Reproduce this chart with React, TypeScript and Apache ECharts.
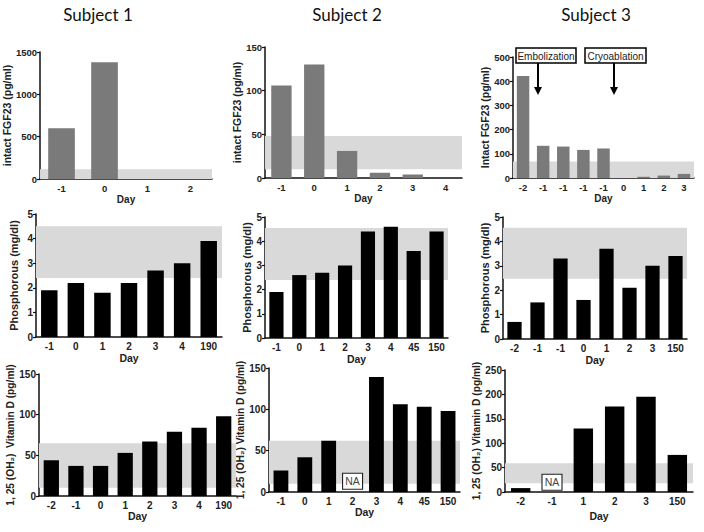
import React, { useEffect, useRef } from 'react';
import * as echarts from 'echarts';

const subjectTitles = ['Subject 1', 'Subject 2', 'Subject 3'];

// Row 1: intact FGF23 (pg/ml)
const s1FgfDays = ['-1', '0', '1', '2'];
const s1FgfValues = [600, 1380, null, null];
const s1FgfRange = [0, 115];
const s2FgfDays = ['-1', '0', '1', '2', '3', '4'];
const s2FgfValues = [106, 130, 31, 6, 4, null];
const s2FgfRange = [10, 48];
const s3FgfDays = ['-2', '-1', '-1', '-1', '-1', '0', '1', '2', '3'];
const s3FgfValues = [422, 133, 130, 116, 122, null, 5, 10, 17];
const s3FgfRange = [0, 68];

// Row 2: Phosphorous (mg/dl)
const s1PhosDays = ['-1', '0', '1', '2', '3', '4', '190'];
const s1PhosValues = [1.9, 2.2, 1.8, 2.2, 2.7, 3.0, 3.9];
const s1PhosRange = [2.4, 4.5];
const s2PhosDays = ['-1', '0', '1', '2', '3', '4', '45', '150'];
const s2PhosValues = [1.9, 2.6, 2.7, 3.0, 4.4, 4.6, 3.6, 4.4];
const s2PhosRange = [2.4, 4.55];
const s3PhosDays = ['-2', '-1', '-1', '0', '1', '2', '3', '150'];
const s3PhosValues = [0.7, 1.5, 3.3, 1.6, 3.7, 2.1, 3.0, 3.4];
const s3PhosRange = [2.47, 4.56];

// Row 3: 1,25 (OH)2 Vitamin D (pg/ml)
const s1VitDDays = ['-2', '-1', '0', '1', '2', '3', '4', '190'];
const s1VitDValues = [44, 37, 37, 53, 67, 79, 84, 98];
const s1VitDRange = [10, 65];
const s2VitDDays = ['-1', '0', '1', '2', '3', '4', '45', '150'];
const s2VitDValues = [26, 42, 62, null, 139, 106, 103, 98];
const s2VitDRange = [10, 62];
const s2VitDNA = { index: 3, value: 13 };
const s3VitDDays = ['-2', '-1', '1', '2', '3', '150'];
const s3VitDValues = [8, null, 130, 175, 195, 76];
const s3VitDRange = [18, 59];
const s3VitDNA = { index: 1, value: 20 };

const FONT = 'Liberation Sans, Arial, sans-serif';

type Panel = {
  days: string[];
  values: (number | null)[];
  range: number[];
  max: number;
  interval: number;
  yName: string;
  color: string;
  box: [number, number, number, number]; // left, top, right, bottom
  yGap: number;
  xGap: number;
  tickFont: number;
  nameFont: number;
  na?: { index: number; value: number };
};

const FGF = 'intact FGF23 (pg/ml)';
const PHOS = 'Phosphorous (mg/dl)';
const VITD1 = '1, 25 (OH\u2082)  Vitamin D (pg/ml)';
const VITD = '1, 25 (OH\u2082) Vitamin D (pg/ml)';

const panels: Panel[] = [
  { days: s1FgfDays, values: s1FgfValues, range: s1FgfRange, max: 1500, interval: 500, yName: FGF, color: '#7a7a7a', box: [36, 52, 212, 179], yGap: 20, xGap: 15, tickFont: 9.5, nameFont: 10.5 },
  { days: s2FgfDays, values: s2FgfValues, range: s2FgfRange, max: 150, interval: 50, yName: FGF, color: '#7a7a7a', box: [265, 47, 462, 178], yGap: 21, xGap: 15, tickFont: 9.5, nameFont: 10.5 },
  { days: s3FgfDays, values: s3FgfValues, range: s3FgfRange, max: 500, interval: 100, yName: 'Intact FGF23 (pg/ml)', color: '#7a7a7a', box: [513, 57, 694, 178], yGap: 23, xGap: 15, tickFont: 9.5, nameFont: 10.5 },
  { days: s1PhosDays, values: s1PhosValues, range: s1PhosRange, max: 5, interval: 1, yName: PHOS, color: '#000', box: [36, 214, 222, 337], yGap: 17, xGap: 15, tickFont: 10, nameFont: 11 },
  { days: s2PhosDays, values: s2PhosValues, range: s2PhosRange, max: 5, interval: 1, yName: PHOS, color: '#000', box: [265, 217, 448, 338], yGap: 10, xGap: 15, tickFont: 10, nameFont: 11 },
  { days: s3PhosDays, values: s3PhosValues, range: s3PhosRange, max: 5, interval: 1, yName: PHOS, color: '#000', box: [503, 217, 687, 339], yGap: 11, xGap: 15, tickFont: 10, nameFont: 11 },
  { days: s1VitDDays, values: s1VitDValues, range: s1VitDRange, max: 150, interval: 50, yName: VITD1, color: '#000', box: [39, 374, 236, 496], yGap: 18, xGap: 14, tickFont: 10, nameFont: 10.2 },
  { days: s2VitDDays, values: s2VitDValues, range: s2VitDRange, max: 150, interval: 50, yName: VITD, color: '#000', box: [269, 368, 460, 492], yGap: 21, xGap: 12, tickFont: 10, nameFont: 10.2, na: s2VitDNA },
  { days: s3VitDDays, values: s3VitDValues, range: s3VitDRange, max: 250, interval: 50, yName: VITD, color: '#000', box: [505, 370, 693, 492], yGap: 21, xGap: 18, tickFont: 10, nameFont: 10.2, na: s3VitDNA },
];

function arrow(x: number, y0: number, y1: number) {
  return [
    { type: 'line', shape: { x1: x, y1: y0, x2: x, y2: y1 - 6 }, style: { stroke: '#000', lineWidth: 2 } },
    { type: 'polygon', shape: { points: [[x - 4, y1 - 8], [x + 4, y1 - 8], [x, y1]] }, style: { fill: '#000' } },
  ];
}

function labelBox(x: number, y: number, w: number, h: number, text: string) {
  return [
    { type: 'rect', shape: { x, y, width: w, height: h }, style: { fill: '#fff', stroke: '#000', lineWidth: 1.5 } },
    { type: 'text', x: x + w / 2, y: y + h / 2 + 0.5, style: { text, font: `10px ${FONT}`, fill: '#222', align: 'center', verticalAlign: 'middle' } },
  ];
}

export default function App() {
  const ref = useRef<HTMLDivElement>(null);
  useEffect(() => {
    if (!ref.current) return;
    const chart = echarts.init(ref.current, null, { renderer: 'svg' });
    const grid = panels.map((p) => ({
      left: p.box[0],
      top: p.box[1],
      width: p.box[2] - p.box[0],
      height: p.box[3] - p.box[1],
      containLabel: false,
    }));
    const xAxis = panels.map((p, i) => ({
      type: 'category',
      gridIndex: i,
      data: p.days,
      name: 'Day',
      nameLocation: 'middle',
      nameGap: p.xGap,
      nameTextStyle: { fontFamily: FONT, fontWeight: 'bold', fontSize: p.tickFont + 0.5, color: '#222' },
      axisLine: { lineStyle: { color: '#111', width: 1.5 } },
      axisTick: { alignWithLabel: true, length: 3, lineStyle: { color: '#111', width: 1.2 } },
      axisLabel: { fontFamily: FONT, fontWeight: 'bold', fontSize: p.tickFont, color: '#222', margin: 4, interval: 0 },
      splitLine: { show: false },
    }));
    const yAxis = panels.map((p, i) => ({
      type: 'value',
      gridIndex: i,
      min: 0,
      max: p.max,
      interval: p.interval,
      name: p.yName,
      nameLocation: 'middle',
      nameRotate: 90,
      nameGap: p.yGap,
      nameTextStyle: { fontFamily: FONT, fontWeight: 'bold', fontSize: p.nameFont, color: '#222' },
      axisLine: { show: true, lineStyle: { color: '#111', width: 1.5 } },
      axisTick: { show: true, length: 3, lineStyle: { color: '#111', width: 1.2 } },
      axisLabel: { fontFamily: FONT, fontWeight: 'bold', fontSize: p.tickFont, color: '#222', margin: 3, formatter: (v: number) => String(v) },
      splitLine: { show: false },
    }));
    const series = panels.map((p, i) => ({
      type: 'bar',
      xAxisIndex: i,
      yAxisIndex: i,
      data: p.values,
      barWidth: '62%',
      itemStyle: { color: p.color },
      z: 2,
      markArea: {
        silent: true,
        itemStyle: { color: '#d9d9d9', opacity: 1 },
        data: [[{ yAxis: p.range[0] }, { yAxis: p.range[1] }]],
      },
      markPoint: p.na
        ? {
            silent: true,
            symbol: 'rect',
            symbolSize: [20, 16],
            itemStyle: { color: '#fff', borderColor: '#222', borderWidth: 1 },
            label: { show: true, position: 'inside', formatter: 'NA', fontFamily: FONT, fontSize: 10.5, color: '#444' },
            data: [{ coord: [p.na.index, p.na.value] }],
          }
        : undefined,
    }));
    const titleX = [98, 347, 596];
    const graphic: any[] = [
      ...subjectTitles.map((t, i) => ({
        type: 'text',
        x: titleX[i],
        y: 14,
        style: { text: t, font: `17px Lato, Open Sans, sans-serif`, fill: '#111', align: 'center', verticalAlign: 'middle' },
      })),
      ...labelBox(516, 48, 60, 15, 'Embolization'),
      ...arrow(538, 63, 95),
      ...labelBox(585, 48, 61, 15, 'Cryoablation'),
      ...arrow(614, 63, 95),
      { type: 'text', x: 549, y: 241, style: { text: 'On IV phos', font: `10.5px ${FONT}`, fill: '#333', align: 'center', verticalAlign: 'middle' } },
      { type: 'line', shape: { x1: 533, y1: 252.5, x2: 565, y2: 252.5 }, style: { stroke: '#111', lineWidth: 2 } },
      { type: 'line', shape: { x1: 533, y1: 248, x2: 533, y2: 257 }, style: { stroke: '#111', lineWidth: 2 } },
      { type: 'line', shape: { x1: 565, y1: 248, x2: 565, y2: 257 }, style: { stroke: '#111', lineWidth: 2 } },
    ];
    chart.setOption({
      animation: false,
      backgroundColor: '#fff',
      grid,
      xAxis,
      yAxis,
      series,
      graphic,
    } as any);
    return () => chart.dispose();
  }, []);
  return <div ref={ref} style={{ position: 'fixed', left: 0, top: 0, width: 704, height: 532, background: '#fff' }} />;
}
